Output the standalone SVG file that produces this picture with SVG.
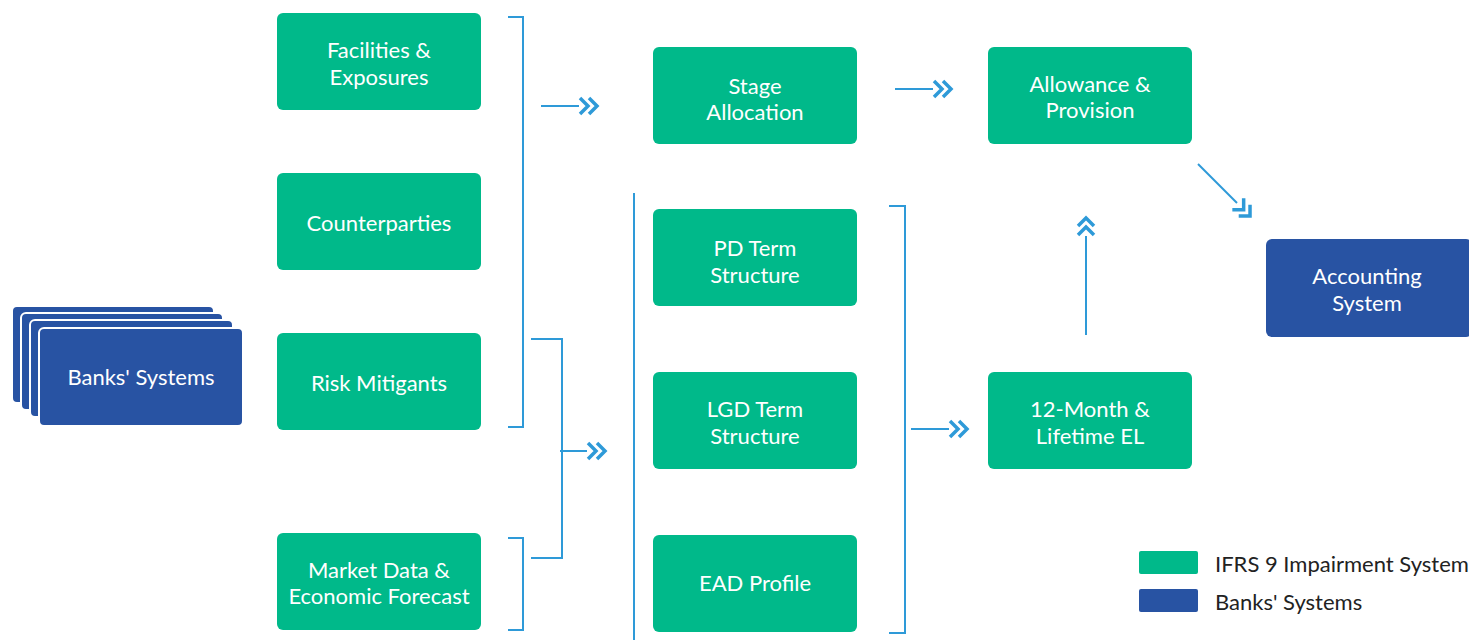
<svg xmlns="http://www.w3.org/2000/svg" width="1469" height="640" viewBox="0 0 1469 640">
<defs>
<style>
.g{fill:#00B98A}
.b{fill:#2853A3}
.card{fill:#2853A3;stroke:#fff;stroke-width:2}
.t{font-family:Lato,"Open Sans","Noto Sans",sans-serif;font-size:22px;fill:#fff;text-anchor:middle}
.lg{font-family:Lato,"Open Sans","Noto Sans",sans-serif;font-size:22px;fill:#222}
.ln{fill:none;stroke:#2E9AD8;stroke-width:2}
.ch{fill:none;stroke:#2E9AD8;stroke-width:3.5}
</style>
<path id="chev" class="ch" d="M0,-8 L8,0 L0,8 M9,-8 L17,0 L9,8"/>
</defs>
<rect width="1469" height="640" fill="#fff"/>

<g id="banks-systems">
<rect class="card" x="12" y="306" width="202" height="97" rx="5"/>
<rect class="card" x="21" y="313" width="202" height="97" rx="5"/>
<rect class="card" x="30" y="320" width="203" height="97" rx="5"/>
<rect class="card" x="39" y="328" width="204" height="98" rx="5"/>
<text class="t" x="141" y="385">Banks' Systems</text>
</g>

<g id="facilities"><rect class="g" x="277" y="13" width="204" height="97" rx="6"/><text class="t" x="379" y="58">Facilities &amp;</text><text class="t" x="379" y="85">Exposures</text></g>
<g id="counterparties"><rect class="g" x="277" y="173" width="204" height="97" rx="6"/><text class="t" x="379" y="231">Counterparties</text></g>
<g id="risk-mitigants"><rect class="g" x="277" y="333" width="204" height="97" rx="6"/><text class="t" x="379" y="391">Risk Mitigants</text></g>
<g id="market-data"><rect class="g" x="277" y="533" width="204" height="97" rx="6"/><text class="t" x="379" y="578">Market Data &amp;</text><text class="t" x="379" y="604">Economic Forecast</text></g>

<g id="stage-allocation"><rect class="g" x="653" y="47" width="204" height="97" rx="6"/><text class="t" x="755" y="94">Stage</text><text class="t" x="755" y="120">Allocation</text></g>
<g id="pd"><rect class="g" x="653" y="209" width="204" height="97" rx="6"/><text class="t" x="755" y="256">PD Term</text><text class="t" x="755" y="283">Structure</text></g>
<g id="lgd"><rect class="g" x="653" y="372" width="204" height="97" rx="6"/><text class="t" x="755" y="417">LGD Term</text><text class="t" x="755" y="444">Structure</text></g>
<g id="ead"><rect class="g" x="653" y="535" width="204" height="97" rx="6"/><text class="t" x="755" y="591">EAD Profile</text></g>

<g id="allowance"><rect class="g" x="988" y="47" width="204" height="97" rx="6"/><text class="t" x="1090" y="92">Allowance &amp;</text><text class="t" x="1090" y="118">Provision</text></g>
<g id="el"><rect class="g" x="988" y="372" width="204" height="97" rx="6"/><text class="t" x="1090" y="417">12-Month &amp;</text><text class="t" x="1090" y="444">Lifetime EL</text></g>

<g id="accounting"><rect class="b" x="1266" y="239" width="206" height="98" rx="6"/><text class="t" x="1367" y="284">Accounting</text><text class="t" x="1367" y="311">System</text></g>

<g id="connectors">
<polyline class="ln" points="508,17 523,17 523,427 508,427"/>
<line class="ln" x1="541" y1="106" x2="579" y2="106"/>
<use href="#chev" x="580" y="106"/>
<polyline class="ln" points="531,339 562,339 562,558 531,558"/>
<polyline class="ln" points="508,538 523,538 523,630 508,630"/>
<line class="ln" x1="560" y1="451" x2="587" y2="451"/>
<use href="#chev" x="588" y="451"/>
<line class="ln" x1="634" y1="193" x2="634" y2="640"/>
<line class="ln" x1="895" y1="89" x2="933" y2="89"/>
<use href="#chev" x="934" y="89"/>
<polyline class="ln" points="889,206 905,206 905,633 889,633"/>
<line class="ln" x1="911" y1="429" x2="949" y2="429"/>
<use href="#chev" x="950" y="429"/>
<line class="ln" x1="1086" y1="335" x2="1086" y2="236"/>
<use href="#chev" transform="translate(1086,235) rotate(-90)"/>
<line class="ln" x1="1198" y1="164" x2="1237" y2="203"/>
<use href="#chev" transform="translate(1238,204) rotate(45)"/>
</g>

<g id="legend">
<rect class="g" x="1139" y="551" width="59" height="23" rx="2"/>
<text class="lg" x="1215" y="572">IFRS 9 Impairment System</text>
<rect class="b" x="1139" y="589" width="59" height="23" rx="2"/>
<text class="lg" x="1215" y="610">Banks' Systems</text>
</g>
</svg>
